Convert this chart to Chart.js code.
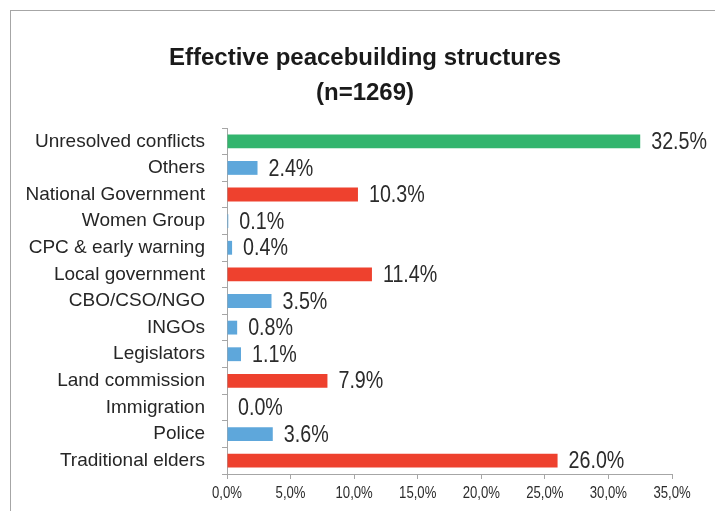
<!DOCTYPE html>
<html>
<head>
<meta charset="utf-8">
<script src="https://cdn.jsdelivr.net/npm/chart.js@4/dist/chart.umd.min.js"></script>
<style>
  html, body { margin: 0; padding: 0; background: #fff; overflow: hidden; }
  #frame {
    position: absolute; left: 10px; top: 10px; width: 800px; height: 600px;
    border-top: 1px solid #a6a6a6; border-left: 1px solid #a6a6a6;
  }
  #chart { position: absolute; left: 0; top: 0; }
</style>
</head>
<body>
<div id="frame"></div>
<canvas id="chart" width="715" height="511"></canvas>
<script>
// ===================
// Dados
// ===================
const categorias = [
  "Unresolved conflicts",
  "Others",
  "National Government",
  "Women Group",
  "CPC & early warning",
  "Local government",
  "CBO/CSO/NGO",
  "INGOs",
  "Legislators",
  "Land commission",
  "Immigration",
  "Police",
  "Traditional elders",
];
const percentuais = [32.5, 2.4, 10.3, 0.1, 0.4, 11.4, 3.5, 0.8, 1.1, 7.9, 0.0, 3.6, 26.0];
const grupos = ["top", "other", "main", "other", "other", "main", "other", "other", "other", "main", "other", "other", "main"];
const tituloLinhas = ["Effective peacebuilding structures", "(n=1269)"];

const cores = { top: "#33b56e", main: "#ee412e", other: "#5ea7db" };
const eixoCor = "#a6a6a6";
const fonte = "'Liberation Sans', Arial, sans-serif";

// texto "estreito": Liberation Sans comprimida na horizontal
function textoEstreito(ctx, texto, x, y, align) {
  ctx.save();
  ctx.translate(x, y);
  ctx.scale(0.82, 1);
  ctx.textAlign = align;
  ctx.fillText(texto, 0, 0);
  ctx.restore();
}

// Título desenhado à mão (centralizado na moldura)
const tituloPlugin = {
  id: "tituloFixo",
  afterDraw(chart) {
    const ctx = chart.ctx;
    ctx.save();
    ctx.fillStyle = "#1a1a1a";
    ctx.font = "bold 24px " + fonte;
    ctx.textAlign = "center";
    ctx.textBaseline = "middle";
    tituloLinhas.forEach((linha, i) => ctx.fillText(linha, 365, 58 + i * 35));
    ctx.restore();
  },
};

// Rótulos de valor no fim de cada barra + ticks do eixo x
const rotulosPlugin = {
  id: "rotulos",
  afterDatasetsDraw(chart) {
    const ctx = chart.ctx;
    const meta = chart.getDatasetMeta(0);
    ctx.save();
    ctx.fillStyle = "#2b2b2b";
    ctx.textBaseline = "middle";
    ctx.font = "24px " + fonte;
    meta.data.forEach((bar, i) => {
      textoEstreito(ctx, percentuais[i].toFixed(1) + "%", bar.x + 11, bar.y + 1, "left");
    });

    const x = chart.scales.x;
    ctx.font = "16px " + fonte;
    x.ticks.forEach((t) => {
      const label = t.value.toFixed(1).replace(".", ",") + "%";
      textoEstreito(ctx, label, x.getPixelForValue(t.value), 494, "center");
    });
    ctx.restore();
  },
};

new Chart(document.getElementById("chart"), {
  type: "bar",
  data: {
    labels: categorias,
    datasets: [
      {
        data: percentuais,
        backgroundColor: grupos.map((g) => cores[g]),
        barPercentage: 0.52,
        categoryPercentage: 1,
      },
    ],
  },
  options: {
    indexAxis: "y",
    responsive: false,
    animation: false,
    layout: { padding: { top: 128, right: 43, bottom: 0, left: 0 } },
    plugins: {
      legend: { display: false },
      title: { display: false },
      tooltip: { enabled: false },
    },
    scales: {
      x: {
        min: 0,
        max: 35,
        afterFit: (scale) => { scale.height = 37; },
        border: { color: eixoCor, width: 1 },
        grid: { drawOnChartArea: false, color: eixoCor, tickLength: 5 },
        ticks: { stepSize: 5, display: false },
      },
      y: {
        afterFit: (scale) => { scale.width = 227; },
        border: { color: eixoCor, width: 1 },
        grid: { drawOnChartArea: false, color: eixoCor, tickLength: 5 },
        ticks: {
          padding: 17,
          color: "#262626",
          font: { family: fonte, size: 19 },
        },
      },
    },
  },
  plugins: [tituloPlugin, rotulosPlugin],
});
</script>
</body>
</html>
